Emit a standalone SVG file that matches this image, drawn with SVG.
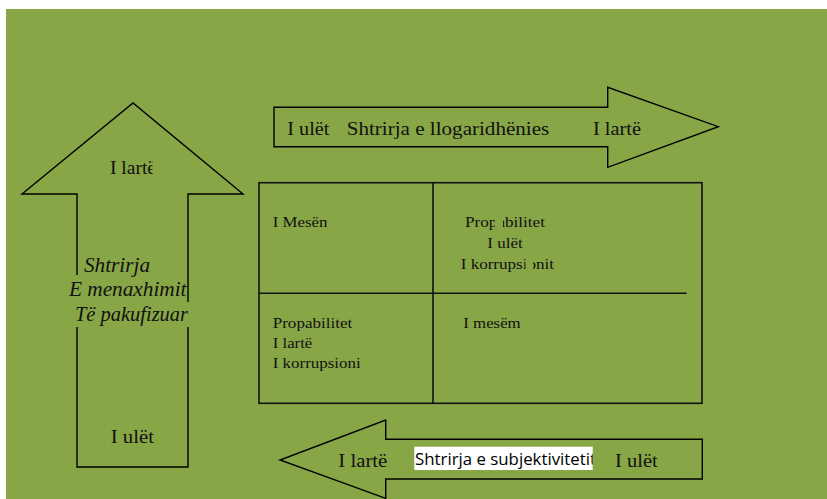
<svg xmlns="http://www.w3.org/2000/svg" width="827" height="499" viewBox="0 0 827 499">
  <style>
    .shape { fill: none; stroke: #000; stroke-width: 1.4; stroke-linejoin: miter; }
    .grid { fill: none; stroke: #111; stroke-width: 1.6; }
    .serif { font-family: "Liberation Serif", "Times New Roman", serif; fill: #111; }
    .lbl { font-size: 19px; }
    .cell { font-size: 15px; }
    .ital { font-size: 20px; font-style: italic; }
    .sans { font-family: "Open Sans", "Liberation Sans", sans-serif; font-size: 17px; fill: #000; }
    .bg { fill: #87a646; }
  </style>
  <defs>
    <clipPath id="clipUpHigh"><rect x="100" y="150" width="52.5" height="35"/></clipPath>
    <clipPath id="clipMesem"><rect x="265" y="205" width="62" height="30"/></clipPath>
    <clipPath id="clipSubj"><rect x="414.3" y="446.7" width="178.4" height="23.3"/></clipPath>
  </defs>

  <rect x="0" y="0" width="827" height="499" fill="#fff"/>
  <rect class="bg" x="6" y="9" width="821" height="490"/>

  <!-- vertical arrow: management scope -->
  <g id="arrow-up">
    <path class="shape" d="M77,275 V194 H22 L133,103 L243,194 H188 V302 M188,327 V467 H77 V327"/>
    <text class="serif lbl" x="110" y="173.5" textLength="46" lengthAdjust="spacingAndGlyphs" clip-path="url(#clipUpHigh)">I lartë</text>
    <text class="serif ital" x="84" y="271.5" textLength="66" lengthAdjust="spacingAndGlyphs">Shtrirja</text>
    <text class="serif ital" x="69" y="295.5" textLength="117.5" lengthAdjust="spacingAndGlyphs">E menaxhimit</text>
    <text class="serif ital" x="75" y="321" textLength="113" lengthAdjust="spacingAndGlyphs">Të pakufizuar</text>
    <text class="serif lbl" x="110.7" y="443" textLength="43.3" lengthAdjust="spacingAndGlyphs">I ulët</text>
  </g>

  <!-- horizontal arrow: accountability scope -->
  <g id="arrow-right">
    <polygon class="shape" points="274,107.3 607.7,107.3 607.7,87.3 718.3,126.7 607.7,167.3 607.7,146.7 274,146.7"/>
    <text class="serif lbl" x="287.3" y="134.5" textLength="42" lengthAdjust="spacingAndGlyphs">I ulët</text>
    <text class="serif lbl" x="346.7" y="134.5" textLength="202.6" lengthAdjust="spacingAndGlyphs">Shtrirja e llogaridhënies</text>
    <text class="serif lbl" x="593" y="134.5" textLength="48" lengthAdjust="spacingAndGlyphs">I lartë</text>
  </g>

  <!-- 2x2 matrix -->
  <g id="matrix">
    <rect class="grid" x="259" y="182.7" width="443" height="220.6"/>
    <line class="grid" x1="433" y1="182.7" x2="433" y2="403.3"/>
    <line class="grid" x1="259" y1="293.3" x2="686.7" y2="293.3"/>
  </g>

  <g id="cell-top-left">
    <text class="serif cell" x="272.7" y="226.7" textLength="59.3" lengthAdjust="spacingAndGlyphs" clip-path="url(#clipMesem)">I Mesëm</text>
  </g>

  <g id="cell-top-right">
    <text class="serif cell" x="465" y="227.3" textLength="80" lengthAdjust="spacingAndGlyphs">Propabilitet</text>
    <text class="serif cell" x="487.3" y="247.7" textLength="35.4" lengthAdjust="spacingAndGlyphs">I ulët</text>
    <text class="serif cell" x="460.7" y="268.7" textLength="93.3" lengthAdjust="spacingAndGlyphs">I korrupsionit</text>
    <!-- patches of the cell fill partly hiding letters -->
    <rect class="bg" x="495" y="212" width="8" height="18"/>
    <rect class="bg" x="525.5" y="254" width="7.5" height="18"/>
  </g>

  <g id="cell-bottom-left">
    <text class="serif cell" x="272.7" y="328.3" textLength="79.6" lengthAdjust="spacingAndGlyphs">Propabilitet</text>
    <text class="serif cell" x="272.7" y="347.7" textLength="39.6" lengthAdjust="spacingAndGlyphs">I lartë</text>
    <text class="serif cell" x="272.7" y="367.7" textLength="88" lengthAdjust="spacingAndGlyphs">I korrupsioni</text>
  </g>

  <g id="cell-bottom-right">
    <text class="serif cell" x="463.3" y="327.7" textLength="57.4" lengthAdjust="spacingAndGlyphs">I mesëm</text>
  </g>

  <!-- horizontal arrow: subjectivity scope -->
  <g id="arrow-left">
    <polygon class="shape" points="702.3,439.3 385.7,439.3 385.7,420 280,460 385.7,498.3 385.7,479 702.3,479"/>
    <text class="serif lbl" x="338.3" y="467" textLength="49" lengthAdjust="spacingAndGlyphs">I lartë</text>
    <rect x="414.3" y="446.7" width="178.4" height="23.3" fill="#fff"/>
    <text class="sans" x="415" y="465.3" textLength="181" lengthAdjust="spacingAndGlyphs" clip-path="url(#clipSubj)">Shtrirja e subjektivitetit</text>
    <text class="serif lbl" x="615" y="467" textLength="42.7" lengthAdjust="spacingAndGlyphs">I ulët</text>
  </g>
</svg>
